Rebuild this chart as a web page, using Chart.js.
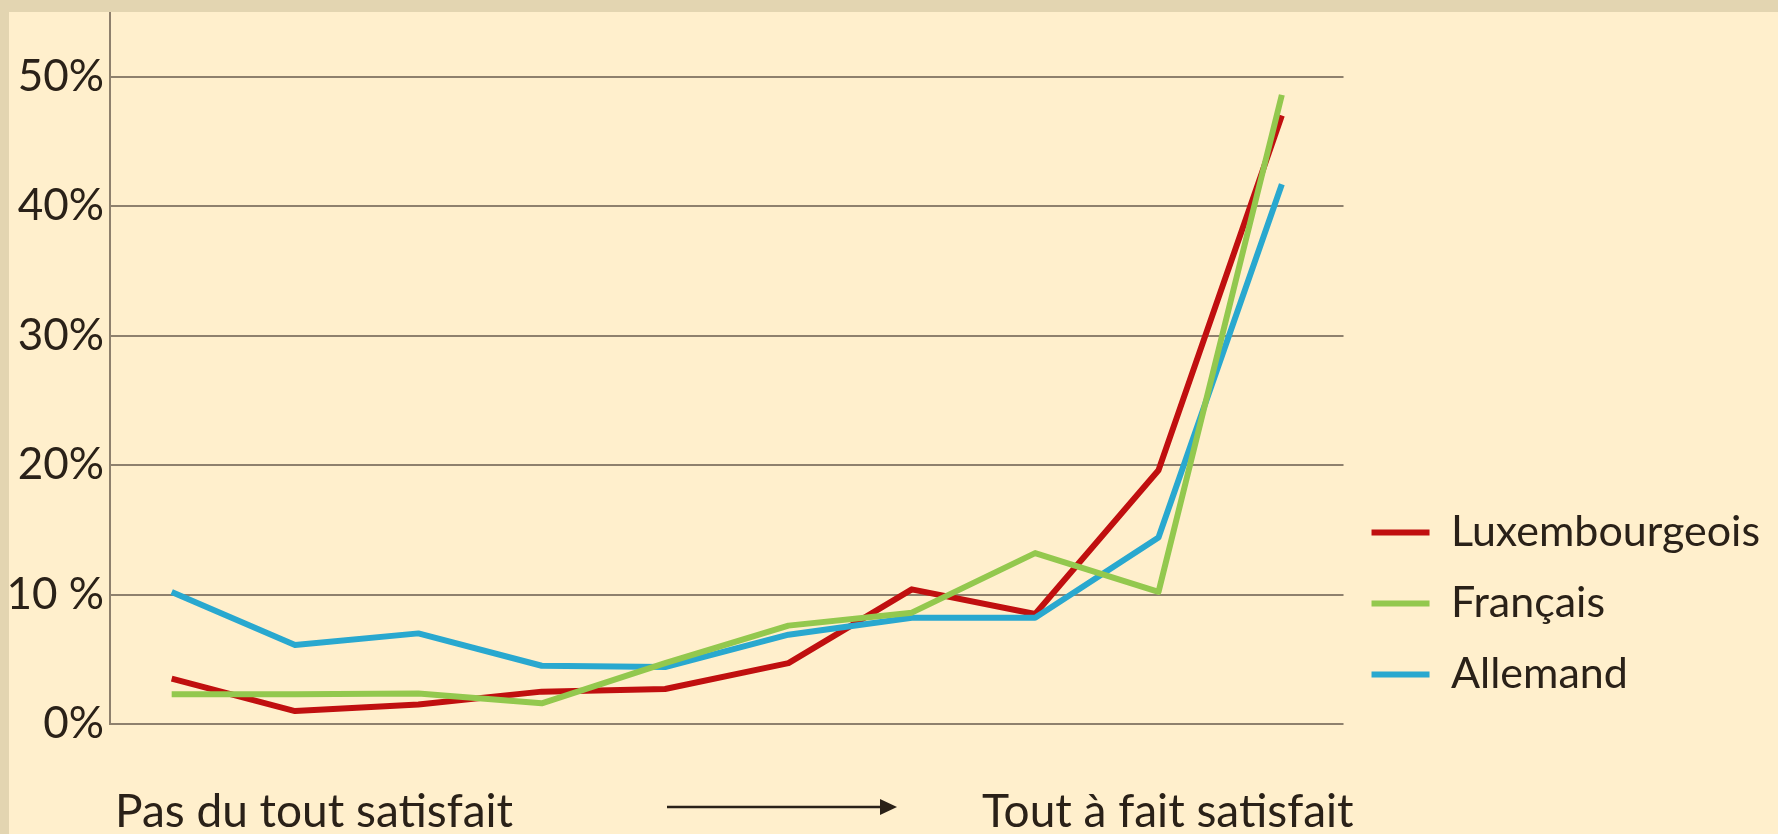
<!DOCTYPE html>
<html>
<head>
<meta charset="utf-8">
<script src="https://cdn.jsdelivr.net/npm/chart.js@4/dist/chart.umd.min.js"></script>
<style>
  html, body { margin: 0; padding: 0; background: #e3d5b1; width: 1778px; height: 834px; overflow: hidden; }
  #wrap { position: absolute; left: 9px; top: 12px; width: 1769px; height: 822px; background: #ffefcc; }
</style>
</head>
<body>
<div id="wrap"><canvas id="chart" width="1769" height="822"></canvas></div>
<script>
// échelle de satisfaction 1..10
const categories = ['1', '2', '3', '4', '5', '6', '7', '8', '9', '10'];
const seriesNames = ['Luxembourgeois', 'Français', 'Allemand'];
const luxembourgeois = [3.5, 1.0, 1.5, 2.5, 2.7, 4.7, 10.4, 8.5, 19.6, 47.0];
const francais = [2.3, 2.3, 2.35, 1.6, 4.7, 7.6, 8.6, 13.2, 10.2, 48.6];
const allemand = [10.2, 6.1, 7.0, 4.5, 4.4, 6.9, 8.2, 8.2, 14.4, 41.7];
const yTicks = [0, 10, 20, 30, 40, 50];
const yTickLabels = ['0%', '10 %', '20%', '30%', '40%', '50%'];
const leftLabel = 'Pas du tout satisfait';
const rightLabel = 'Tout à fait satisfait';

const colors = ['#c00f0f', '#93c84e', '#29a8cf'];
const drawOrder = [2, 0, 1]; // vert au-dessus, puis bleu, rouge dessous
const gridColor = '#8e806d';
const textColor = '#2a2118';
const fontFamily = 'Lato, "Noto Sans", sans-serif';

const values = [luxembourgeois, francais, allemand];

// texte des extrémités + flèche sous le graphique
const bottomNotes = {
  id: 'bottomNotes',
  afterDraw(chart) {
    const { ctx, chartArea } = chart;
    ctx.save();
    ctx.fillStyle = textColor;
    ctx.font = '46px ' + fontFamily;
    ctx.textBaseline = 'alphabetic';
    ctx.textAlign = 'left';
    ctx.fillText(leftLabel, chartArea.left + 5, 815);
    ctx.textAlign = 'right';
    ctx.fillText(rightLabel, chartArea.right + 10, 815);

    const y = 795, x0 = chartArea.left + 557, x1 = chartArea.left + 787;
    ctx.strokeStyle = textColor;
    ctx.lineWidth = 2.5;
    ctx.beginPath();
    ctx.moveTo(x0, y);
    ctx.lineTo(x1 - 12, y);
    ctx.stroke();
    ctx.beginPath();
    ctx.moveTo(x1, y);
    ctx.lineTo(x1 - 17, y - 8);
    ctx.lineTo(x1 - 17, y + 8);
    ctx.closePath();
    ctx.fill();
    ctx.restore();
  }
};

new Chart(document.getElementById('chart'), {
  type: 'line',
  data: {
    labels: categories,
    datasets: seriesNames.map((name, i) => ({
      label: name,
      data: values[i],
      order: drawOrder[i],
      borderColor: colors[i],
      backgroundColor: colors[i],
      borderWidth: 6,
      pointRadius: 0,
      tension: 0,
      borderJoinStyle: 'round',
      fill: false
    }))
  },
  options: {
    responsive: false,
    animation: false,
    layout: { padding: { left: 0, top: 0, right: 8, bottom: 110 } },
    scales: {
      x: {
        display: false,
        offset: true
      },
      y: {
        min: 0,
        max: 55,
        afterBuildTicks(scale) {
          scale.ticks = yTicks.map(v => ({ value: v }));
        },
        afterFit(scale) {
          scale.width = 101;
          scale.paddingTop = 0;
          scale.paddingBottom = 0;
        },
        border: { display: true, color: gridColor, width: 2 },
        grid: { color: gridColor, lineWidth: 2, drawTicks: false },
        ticks: {
          padding: 6,
          color: textColor,
          font: { family: fontFamily, size: 44 },
          callback: (v) => yTickLabels[yTicks.indexOf(v)]
        }
      }
    },
    plugins: {
      legend: {
        position: 'right',
        align: 'end',
        fullSize: false,
        labels: {
          usePointStyle: true,
          pointStyle: 'line',
          pointStyleWidth: 58,
          padding: 28,
          color: textColor,
          font: { family: fontFamily, size: 43 },
          sort: (a, b) => a.datasetIndex - b.datasetIndex
        }
      },
      tooltip: { enabled: false }
    }
  },
  plugins: [bottomNotes]
});
</script>
</body>
</html>
